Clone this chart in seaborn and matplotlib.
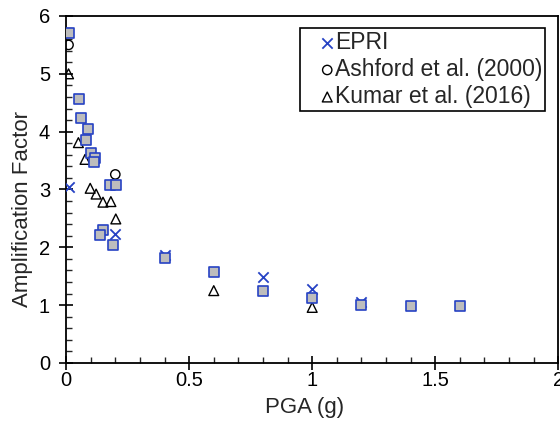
import numpy as np
import pandas as pd
import matplotlib
matplotlib.use("Agg")
import matplotlib.pyplot as plt
import seaborn as sns
from matplotlib.ticker import MultipleLocator

# data
sq_pga = [0.01, 0.053, 0.061, 0.091, 0.08, 0.10, 0.118, 0.113, 0.18, 0.203,
          0.152, 0.139, 0.192, 0.40, 0.60, 0.80, 1.0, 1.2, 1.4, 1.6]
sq_af = [5.70, 4.56, 4.23, 4.05, 3.85, 3.63, 3.54, 3.47, 3.08, 3.08,
         2.30, 2.22, 2.04, 1.82, 1.57, 1.25, 1.12, 1.00, 0.99, 0.99]

epri_pga = [0.01, 0.20, 0.40, 0.80, 1.0, 1.2]
epri_af = [3.04, 2.23, 1.87, 1.48, 1.27, 1.05]

ashford_pga = [0.01, 0.20]
ashford_af = [5.50, 3.26]

kumar_pga = [0.01, 0.05, 0.077, 0.098, 0.122, 0.15, 0.182, 0.202, 0.60, 1.0]
kumar_af = [5.0, 3.81, 3.52, 3.02, 2.92, 2.78, 2.79, 2.49, 1.25, 0.96]

blue = '#2642C4'

sns.set_style('ticks')
plt.rcParams['font.family'] = ['Liberation Sans', 'DejaVu Sans']

fig = plt.figure(figsize=(5.6, 4.21), dpi=100)
ax = fig.add_axes([0.118, 0.138, 0.879, 0.824])

sns.scatterplot(x=epri_pga, y=epri_af, marker='x', s=55, color=blue,
                linewidth=1.3, label='EPRI', ax=ax, zorder=3)
sns.scatterplot(x=ashford_pga, y=ashford_af, marker='o', s=45,
                facecolor='none', edgecolor='black', linewidth=1.0,
                label='Ashford et al. (2000)', ax=ax, zorder=3)
sns.scatterplot(x=kumar_pga, y=kumar_af, marker='^', s=50,
                facecolor='none', edgecolor='black', linewidth=1.0,
                label='Kumar et al. (2016)', ax=ax, zorder=3)
sns.scatterplot(x=sq_pga, y=sq_af, marker='s', s=44, color='#BDBDBD',
                edgecolor=blue, linewidth=1.2, ax=ax, zorder=4, legend=False)

ax.set_xlim(0, 2)
ax.set_ylim(0, 6)
ax.xaxis.set_minor_locator(MultipleLocator(0.1))
ax.yaxis.set_major_locator(MultipleLocator(1))
ax.yaxis.set_minor_locator(MultipleLocator(0.2))
ax.set_xticks([0, 0.5, 1, 1.5, 2])
ax.set_xticklabels(['0', '0.5', '1', '1.5', '2'])
ax.tick_params(which='major', direction='inout', length=10, width=1.2,
               labelsize=14.5, colors='black')
ax.tick_params(axis='x', which='major', pad=0.5)
ax.tick_params(axis='y', which='major', pad=6.5)
ax.tick_params(which='minor', direction='in', length=4, width=1.0)
for sp in ax.spines.values():
    sp.set_linewidth(1.3)
    sp.set_color('black')
ax.set_xlabel('PGA (g)', fontsize=16)
ax.set_ylabel('Amplification Factor', fontsize=16)
ax.xaxis.set_label_coords(0.485, -0.098)
ax.yaxis.set_label_coords(-0.067, 0.444)

leg = ax.legend(loc='upper left', bbox_to_anchor=(0.4756, 0.9654),
                borderaxespad=0, fontsize=16.5, frameon=True, fancybox=False,
                edgecolor='black', handletextpad=-0.72, borderpad=0.13,
                labelspacing=0.175, handlelength=2.1)
leg.get_frame().set_linewidth(1.2)
leg.get_frame().set_alpha(1)

fig.savefig('out.png', dpi=100)
